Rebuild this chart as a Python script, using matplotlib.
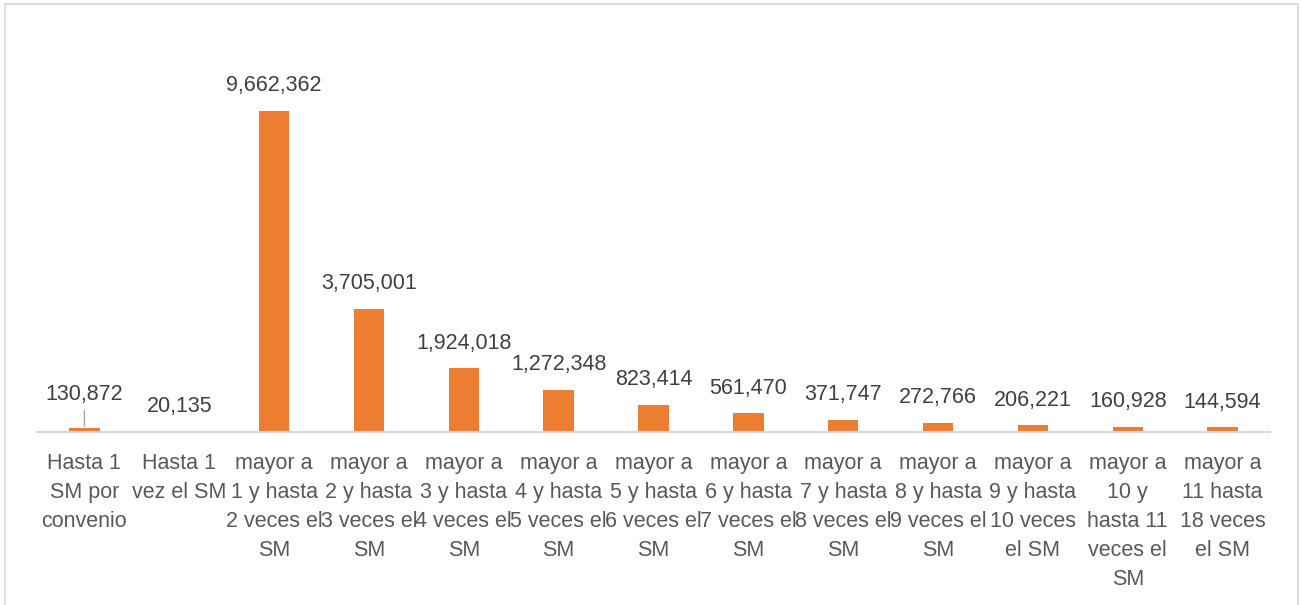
import numpy as np
import matplotlib.pyplot as plt
from matplotlib.patches import Rectangle

# Datos del gráfico
categorias = [
    "Hasta 1\nSM por\nconvenio",
    "Hasta 1\nvez el SM",
    "mayor a\n1 y hasta\n2 veces el\nSM",
    "mayor a\n2 y hasta\n3 veces el\nSM",
    "mayor a\n3 y hasta\n4 veces el\nSM",
    "mayor a\n4 y hasta\n5 veces el\nSM",
    "mayor a\n5 y hasta\n6 veces el\nSM",
    "mayor a\n6 y hasta\n7 veces el\nSM",
    "mayor a\n7 y hasta\n8 veces el\nSM",
    "mayor a\n8 y hasta\n9 veces el\nSM",
    "mayor a\n9 y hasta\n10 veces\nel SM",
    "mayor a\n10 y\nhasta 11\nveces el\nSM",
    "mayor a\n11 hasta\n18 veces\nel SM",
]
valores = [130872, 20135, 9662362, 3705001, 1924018, 1272348, 823414,
           561470, 371747, 272766, 206221, 160928, 144594]

plt.rcParams['font.family'] = ['Liberation Sans', 'DejaVu Sans']

fig = plt.figure(figsize=(13.02, 6.05), dpi=100)
ax = fig.add_axes([37 / 1302, 173 / 605, 1233 / 1302, 399 / 605])

x = np.arange(len(valores))
ax.bar(x, valores, width=0.32, color='#ED7D31')
ax.set_xlim(-0.5, len(valores) - 0.5)
ax.set_ylim(0, 12000000)

# Etiquetas de valores
for i, v in enumerate(valores):
    off = 25
    if i == 0:
        off = 33
        ax.annotate('', xy=(i, v), xytext=(0, 17), textcoords='offset pixels',
                    arrowprops=dict(arrowstyle='-', color='#A6A6A6', lw=1,
                                    shrinkA=0, shrinkB=1))
    ax.annotate(f"{v:,}", xy=(i, v), xytext=(0, off), textcoords='offset pixels',
                ha='center', va='center', fontsize=15.5, color='#404040')

ax.set_xticks(x)
ax.set_xticklabels(categorias, fontsize=15.5, color='#595959', linespacing=1.5)
ax.tick_params(axis='x', length=0, pad=15)
ax.set_yticks([])
for s in ['top', 'right', 'left']:
    ax.spines[s].set_visible(False)
ax.spines['bottom'].set_color('#D9D9D9')
ax.spines['bottom'].set_linewidth(1.5)

# Marco del área del gráfico
fig.patches.append(Rectangle((5 / 1302, -0.05), 1293 / 1302, 1 - 4 / 605 + 0.05,
                             transform=fig.transFigure, fill=False,
                             edgecolor='#D9D9D9', linewidth=1.2))

fig.savefig('out.png', dpi=100)
